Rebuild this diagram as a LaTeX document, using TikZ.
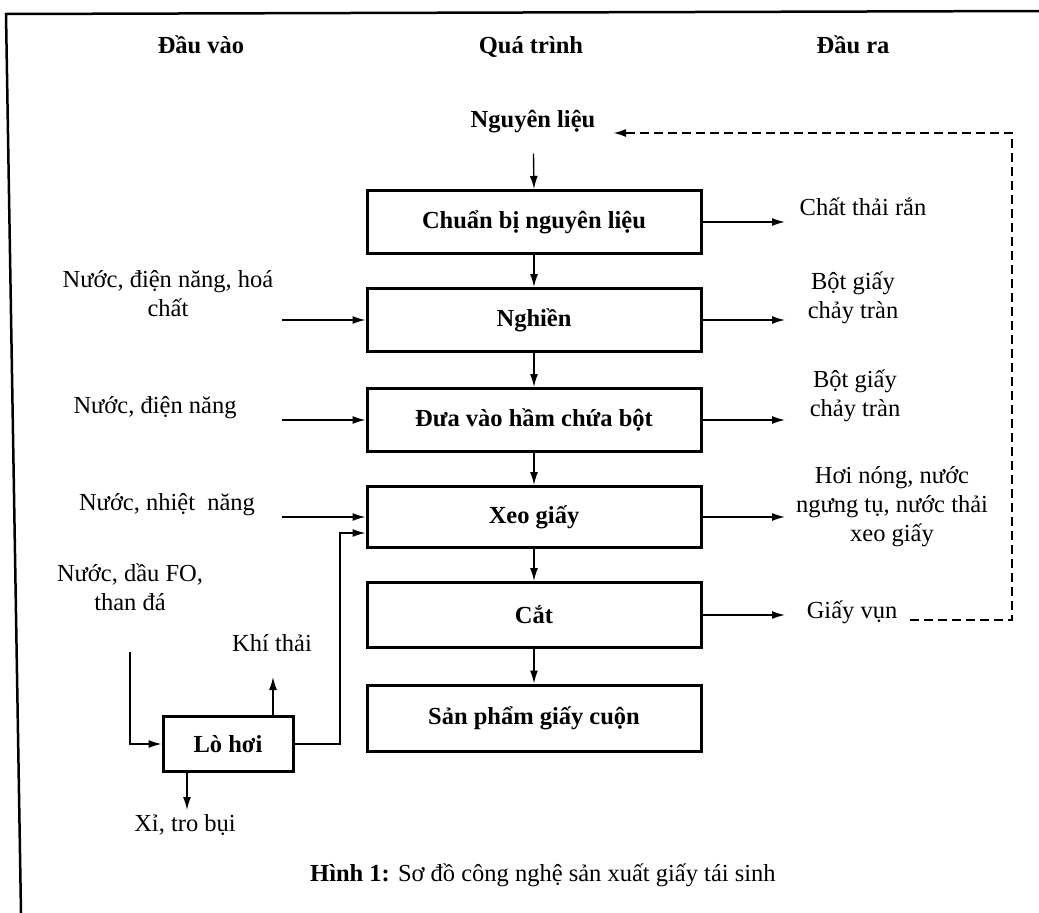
\documentclass[tikz,border=0pt]{standalone}
\usepackage{fontspec}
\setmainfont{Liberation Serif}
\usetikzlibrary{arrows.meta,calc}
\begin{document}
\begin{tikzpicture}[x=1pt,y=-1pt,
  every node/.style={font=\fontsize{24.5}{29}\selectfont, inner sep=0pt},
  txt/.style={align=center},
  head/.style={font=\fontsize{24.5}{29}\selectfont\bfseries},
  stage/.style={draw, line width=3pt, minimum width=334pt, minimum height=63pt,
                font=\fontsize{24.5}{29}\selectfont\bfseries},
  flow/.style={line width=1.4pt, -{Latex[length=13pt,width=8pt]}},
  ret/.style={line width=2.2pt, dash pattern=on 9pt off 5pt,
              -{Latex[length=13pt,width=8pt]}}
]
\useasboundingbox (0,0) rectangle (1039,913);

% page frame
\draw[line width=2.5pt] (1039,11) -- (6,14) -- (21,913);

% column headings
\node[head] (hin)   at (201,45) {Đầu vào};
\node[head] (hproc) at (531,47) {Quá trình};
\node[head] (hout)  at (853,45) {Đầu ra};

% main process chain
\node[head] (raw) at (533,122) {Nguyên liệu};
\node[stage] (s1) at (534,222) {Chuẩn bị nguyên liệu};
\node[stage] (s2) at (534,320) {Nghiền};
\node[stage] (s3) at (534,420) {Đưa vào hầm chứa bột};
\node[stage, minimum height=61pt] (s4) at (534,517) {Xeo giấy};
\node[stage, minimum height=65pt] (s5) at (534,615) {Cắt};
\node[stage, minimum height=66pt] (s6) at (534,718) {Sản phẩm giấy cuộn};

\draw[flow, shorten <=20pt] (raw) -- (s1.north);
\draw[flow] (s1) -- (s2);
\draw[flow] (s2) -- (s3);
\draw[flow] (s3) -- (s4);
\draw[flow] (s4) -- (s5);
\draw[flow] (s5) -- (s6);

% inputs
\node[txt] (in2) at (168,294) {Nước, điện năng, hoá\\chất};
\node[txt] (in3) at (155,408) {Nước, điện năng};
\node[txt] (in4) at (167,505) {Nước, nhiệt\hspace{0.5em}năng};
\node[txt] (in5) at (130,587) {Nước, dầu FO,\\than đá};
\coordinate (inx) at (282,0);
\draw[flow] (s2.west -| inx) -- (s2.west);
\draw[flow] (s3.west -| inx) -- (s3.west);
\draw[flow] (s4.west -| inx) -- (s4.west);

% boiler
\node[stage, minimum width=130pt, minimum height=55pt] (boiler) at (228,744) {Lò hơi};
\coordinate (fuel) at (130,652);
\draw[flow] (fuel) |- (boiler.west);
\node[txt] (gas) at (272,643) {Khí thải};
\coordinate (gasend) at (273,677);
\draw[flow] (boiler.north -| gasend) -- (gasend);
\node[txt] (ash) at (185,825) {Xỉ, tro bụi};
\coordinate (ashend) at (187,810);
\draw[flow] (boiler.south -| ashend) -- (ashend);
\coordinate (bend) at (340,533);
\draw[flow] (boiler.east) -- (boiler.east -| bend) -- (bend) -- (bend -| s4.west);

% outputs
\node[txt] (o1) at (863,207) {Chất thải rắn};
\node[txt] (o2) at (853,298) {Bột giấy\\chảy tràn};
\node[txt] (o3) at (855,396) {Bột giấy\\chảy tràn};
\node[txt] (o4) at (892,507) {Hơi nóng, nước\\ngưng tụ, nước thải\\xeo giấy};
\node[txt] (o5) at (852,612) {Giấy vụn};
\coordinate (outx) at (785,0);
\draw[flow] (s1.east) -- (s1.east -| outx);
\draw[flow] (s2.east) -- (s2.east -| outx);
\draw[flow] (s3.east) -- (s3.east -| outx);
\draw[flow] (s4.east) -- (s4.east -| outx);
\draw[flow] (s5.east) -- (s5.east -| outx);

% scrap paper recycled back to raw material
\coordinate (r1) at (910,620);
\coordinate (r2) at (1012,620);
\coordinate (r3) at (1012,133);
\coordinate (r4) at (613,133);
\draw[ret] (r1) -- (r2) -- (r3) -- (r4);

% caption
\node[anchor=west] (cap) at (310,875) {\textbf{Hình 1:} Sơ đồ công nghệ sản xuất giấy tái sinh};
\end{tikzpicture}
\end{document}
